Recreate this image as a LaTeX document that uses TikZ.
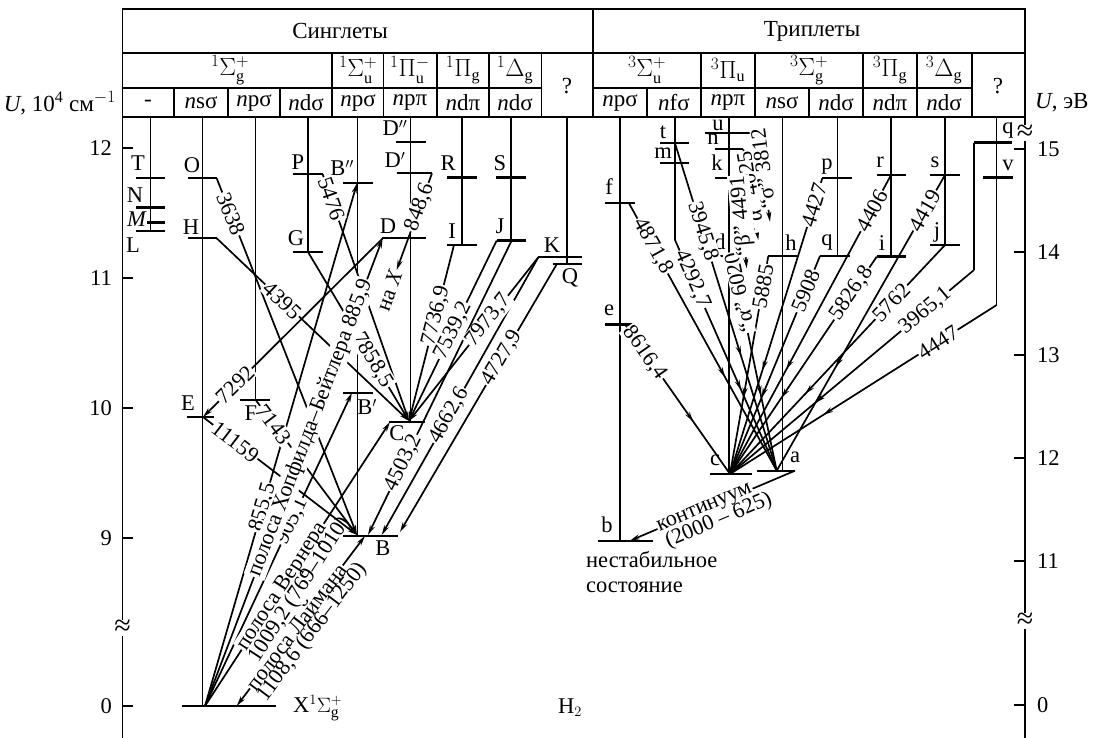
\documentclass[tikz,border=0pt]{standalone}
\usepackage{fontspec}
\setmainfont{Liberation Serif}
\usepackage{tikz}
\usetikzlibrary{arrows.meta,decorations.markings}

\begin{document}
\begin{tikzpicture}[
    x=1pt,y=-1pt,
    tabline/.style={line width=1.1pt},
    lvl/.style={line width=2.4pt},
    stateline/.style={line width=1.1pt},
    arrow/.style={line width=1.7pt,-{Stealth[length=10pt,width=5pt]}},
    twoway/.style={line width=1.7pt,{Stealth[length=10pt,width=5pt]}-{Stealth[length=10pt,width=5pt]}},
    midarrow/.style={line width=1.7pt,postaction={decorate},decoration={markings,mark=at position 0.65 with {\arrow{Stealth[length=10pt,width=5pt]}}}},
    head/.style={font=\fontsize{23}{26}\selectfont,inner sep=1pt},
    lvlname/.style={font=\fontsize{22.5}{25}\selectfont,inner sep=1pt},
    wave/.style={font=\fontsize{22}{24}\selectfont,inner sep=1pt,fill=white,sloped},
    wavenext/.style={font=\fontsize{22}{24}\selectfont,inner sep=1pt,sloped},
    brk/.style={font=\fontsize{30}{30}\selectfont,inner sep=0pt,fill=white}
]
\useasboundingbox (0,0) rectangle (1093,738);

% table
\draw[tabline] (122.7,9) rectangle (1025,117);
\draw[tabline] (122.7,53) -- (1025,53) (593,9) -- (593,117);
\draw[tabline] (122.7,88) -- (541.5,88) (593,88) -- (972,88);
\draw[tabline] (332,53) -- (332,117) (383.5,53) -- (383.5,117) (437,53) -- (437,117) (489,53) -- (489,117) (541.5,53) -- (541.5,117);
\draw[tabline] (701,53) -- (701,117) (755,53) -- (755,117) (863,53) -- (863,117) (917,53) -- (917,117) (972,53) -- (972,117);
\draw[tabline] (174,88) -- (174,117) (228,88) -- (228,117) (280,88) -- (280,117) (647,88) -- (647,117) (809,88) -- (809,117);

\node[head] (sing) at (340,31) {Синглеты};
\node[head] (trip) at (812,31) {Триплеты};
\node[head] (sg) at (230,70) {$^1\Sigma^+_{\mathrm{g}}$};
\node[head] (su) at (358,70) {$^1\Sigma^+_{\mathrm{u}}$};
\node[head] (pu) at (410,70) {$^1\Pi^-_{\mathrm{u}}$};
\node[head] (pg) at (463,70) {$^1\Pi_{\mathrm{g}}$};
\node[head] (dg) at (515,70) {$^1\Delta_{\mathrm{g}}$};
\node[head] (sq) at (567,86) {?};
\node[head] (c1) at (148,103) {-};
\node[head] (c2) at (201,103) {\textit{n}sσ};
\node[head] (c3) at (254,103) {\textit{n}pσ};
\node[head] (c4) at (306,103) {\textit{n}dσ};
\node[head] (c5) at (358,103) {\textit{n}pσ};
\node[head] (c6) at (410,103) {\textit{n}pπ};
\node[head] (c7) at (463,103) {\textit{n}dπ};
\node[head] (c8) at (515,103) {\textit{n}dσ};
\node[head] (tsu) at (647,70) {$^3\Sigma^+_{\mathrm{u}}$};
\node[head] (tpu) at (728,70) {$^3\Pi_{\mathrm{u}}$};
\node[head] (tsg) at (809,70) {$^3\Sigma^+_{\mathrm{g}}$};
\node[head] (tpg) at (890,70) {$^3\Pi_{\mathrm{g}}$};
\node[head] (tdg) at (944,70) {$^3\Delta_{\mathrm{g}}$};
\node[head] (tq) at (998,86) {?};
\node[head] (t1) at (620,103) {\textit{n}pσ};
\node[head] (t2) at (674,103) {\textit{n}fσ};
\node[head] (t3) at (728,103) {\textit{n}pπ};
\node[head] (t4) at (782,103) {\textit{n}sσ};
\node[head] (t5) at (836,103) {\textit{n}dσ};
\node[head] (t6) at (890,103) {\textit{n}dπ};
\node[head] (t7) at (944,103) {\textit{n}dσ};

% axes
\draw[tabline] (122.7,117) -- (122.7,738) (1025,117) -- (1025,738);
\draw[tabline] (122.7,148) -- (133,148) (122.7,278) -- (133,278) (122.7,408) -- (133,408) (122.7,538) -- (133,538) (122.7,706) -- (133,706);
\draw[tabline] (1014,149) -- (1025,149) (1014,252) -- (1025,252) (1014,355) -- (1025,355) (1014,458) -- (1025,458) (1014,561) -- (1025,561) (1014,705) -- (1025,705);
\node[head,anchor=east] (uleft) at (117,103) {\textit{U}, 10\textsuperscript{4} см$^{-1}$};
\node[head,anchor=west] (uright) at (1034,103) {\textit{U}, эВ};
\node[lvlname,anchor=east] (y12) at (113,148) {12};
\node[lvlname,anchor=east] (y11) at (113,278) {11};
\node[lvlname,anchor=east] (y10) at (113,408) {10};
\node[lvlname,anchor=east] (y9) at (113,538) {9};
\node[lvlname,anchor=east] (y0) at (113,706) {0};
\node[lvlname,anchor=west] (e15) at (1036,149) {15};
\node[lvlname,anchor=west] (e14) at (1036,252) {14};
\node[lvlname,anchor=west] (e13) at (1036,355) {13};
\node[lvlname,anchor=west] (e12) at (1036,458) {12};
\node[lvlname,anchor=west] (e11) at (1036,561) {11};
\node[lvlname,anchor=west] (e0) at (1036,705) {0};
\node[brk] (brkl) at (122.7,628) {≈};
\node[brk] (brkr) at (1025,621) {≈};
\node[brk] (brkt) at (1025,133) {≈};

% state lines
\draw[stateline] (150.7,117) -- (150.7,231) (202.7,117) -- (202.7,706) (255.7,117) -- (255.7,400) (308,117) -- (308,252);
\draw[stateline] (357.5,117) -- (357.5,536) (410.5,117) -- (410.5,422) (462,117) -- (462,245) (511,117) -- (511,240.5) (567,117) -- (567,264.3);
\draw[stateline] (620,117) -- (620,540.7) (675,117) -- (675,240) (729,117) -- (729,474) (782.7,117) -- (782.7,470.7);
\draw[stateline] (837.7,117) -- (837.7,256) (891,117) -- (891,256.7) (945,117) -- (945,245) (996.7,117) -- (996.7,305) (974,142.7) -- (974,270);

% singlet levels
\draw[lvl] (135.7,178.3) -- (165,178.3) (135.7,207.7) -- (165,207.7) (147,222.7) -- (165,222.7) (135.7,231) -- (165,231);
\draw[lvl] (188.3,178.3) -- (216.7,178.3) (188.3,238.3) -- (216.7,238.3) (186.7,417) -- (214,417) (181.7,706) -- (275.7,706);
\draw[lvl] (240,400) -- (270,400) (292.7,174.3) -- (322.7,174.3) (292.7,252) -- (322.7,252);
\draw[lvl] (343,183.3) -- (372.7,183.3) (343,392.7) -- (372.7,392.7) (343,536) -- (398,536);
\draw[lvl] (395.7,142.3) -- (425.7,142.3) (396.7,173.3) -- (432,173.3) (382.3,238.3) -- (425.7,238.3) (389,422) -- (425,422);
\draw[lvl] (446.7,177.7) -- (476.7,177.7) (446.7,245) -- (476.7,245) (495.7,177.7) -- (526,177.7) (496.7,240.5) -- (526,240.5);
\draw[lvl] (538,257.3) -- (581.7,257.3) (552.7,264.3) -- (581.7,264.3);

% triplet levels
\draw[lvl] (605,203.3) -- (635,203.3) (605,324.3) -- (635,324.3) (598.3,540.7) -- (653.3,540.7);
\draw[lvl] (660,143.3) -- (689.3,143.3) (660,163.3) -- (689.3,163.3);
\draw[lvl] (705,133.3) -- (758.3,133.3) (715,149.3) -- (743.3,149.3) (715,178.3) -- (738.3,178.3) (718.3,256) -- (745,256);
\draw[lvl] (710,474) -- (752,474) (757,470.7) -- (795,470.7) (768.3,256) -- (797.3,256);
\draw[lvl] (822.3,178.3) -- (851.7,178.3) (820,256) -- (850,256) (876.7,175) -- (906,175) (876.7,256.7) -- (906,256.7);
\draw[lvl] (930,175) -- (960,175) (930,245) -- (960,245) (974,142.7) -- (1011.7,142.7) (982.7,177.7) -- (1012.7,177.7);

% level names
\node[lvlname] (nT) at (138,163) {T};
\node[lvlname] (nN) at (135,195) {N};
\node[lvlname] (nM) at (137,219) {\textit{M}};
\node[lvlname] (nL) at (133,245) {L};
\node[lvlname] (nO) at (192,165) {O};
\node[lvlname] (nH) at (191,227) {H};
\node[lvlname] (nE) at (188,403) {E};
\node[lvlname] (nF) at (251,413) {F};
\node[lvlname] (nP) at (298,162) {P};
\node[lvlname] (nG) at (296,238) {G};
\node[lvlname] (nBpp) at (342,168) {B$''$};
\node[lvlname] (nBp) at (367,407) {B$'$};
\node[lvlname] (nB) at (383,548) {B};
\node[lvlname] (nC) at (397,433) {C};
\node[lvlname] (nDpp) at (395,128) {D$''$};
\node[lvlname] (nDp) at (395,160) {D$'$};
\node[lvlname] (nD) at (388,226) {D};
\node[lvlname] (nR) at (448,163) {R};
\node[lvlname] (nI) at (452,231) {I};
\node[lvlname] (nS) at (500,163) {S};
\node[lvlname] (nJ) at (500,226) {J};
\node[lvlname] (nK) at (552,245) {K};
\node[lvlname] (nQ) at (570,278) {Q};
\node[lvlname,anchor=west] (nX) at (292,708) {X$^1\Sigma^+_{\mathrm{g}}$};
\node[lvlname] (h2) at (570,708) {H$_2$};
\node[lvlname] (nf) at (609,187) {f};
\node[lvlname] (ne) at (609,310) {e};
\node[lvlname] (nb) at (607,525) {b};
\node[lvlname,anchor=north west,align=left] (unst) at (585,550) {нестабильное\\состояние};
\node[lvlname] (nt) at (663,132) {t};
\node[lvlname] (nm) at (663,153) {m};
\node[lvlname] (nu) at (718,125) {u};
\node[lvlname] (nn) at (713,139) {n};
\node[lvlname] (nk) at (717,163) {k};
\node[lvlname] (nd) at (720,242) {d};
\node[lvlname] (nc) at (715,460) {c};
\node[lvlname] (na) at (795,457) {a};
\node[lvlname] (nh) at (791,243) {h};
\node[lvlname] (np) at (827,167) {p};
\node[lvlname] (nq) at (827,242) {q};
\node[lvlname] (nr) at (880,162) {r};
\node[lvlname] (ni) at (882,243) {i};
\node[lvlname] (ns) at (935,162) {s};
\node[lvlname] (nj) at (937,232) {j};
\node[lvlname] (nqq) at (1008,130) {q};
\node[lvlname] (nv) at (1008,165) {v};

% transition points
\coordinate (Xo) at (205,706);
\coordinate (Lx) at (236.7,706);
\coordinate (Ot) at (216.7,178.3);
\coordinate (Ht) at (216.7,238.3);
\coordinate (Et) at (203,417);
\coordinate (Ft) at (255.7,400);
\coordinate (Pt) at (322.7,174.3);
\coordinate (Gt) at (308,252);
\coordinate (Bpp) at (357,183.3);
\coordinate (Bp) at (352,392.7);
\coordinate (Bt) at (357,535);
\coordinate (Lb) at (365,536);
\coordinate (Bj) at (368,535);
\coordinate (Bk) at (381.7,535);
\coordinate (Bq) at (400,532);
\coordinate (Dl) at (382.7,238.3);
\coordinate (Dpt) at (432,173.3);
\coordinate (naX) at (396.7,270);
\coordinate (Cl) at (390,422);
\coordinate (Ct) at (409,421);
\coordinate (It) at (454,245);
\coordinate (Jl) at (496.7,240.5);
\coordinate (Jc) at (511.7,240.5);
\coordinate (Kl) at (538.3,257.3);
\coordinate (Ql) at (556.7,264.3);
\coordinate (cc) at (730,474);
\coordinate (aa) at (776.7,470.7);
\coordinate (ar) at (795,470.7);
\coordinate (bb) at (630,540.7);
\coordinate (et) at (625,324.3);
\coordinate (ft) at (629,203.3);
\coordinate (nft) at (675,240);
\coordinate (tt) at (675,143.3);
\coordinate (dt) at (731.7,256);
\coordinate (ht) at (768.3,256);
\coordinate (qt) at (820,256);
\coordinate (pt) at (822.3,178.3);
\coordinate (rt) at (891,175);
\coordinate (it) at (876.7,256.7);
\coordinate (st) at (945,175);
\coordinate (jt) at (945,245);
\coordinate (qqt) at (974,270);
\coordinate (vt) at (996.7,305);
\coordinate (ut) at (758.3,133.3);
\coordinate (ue) at (770,221.7);
\coordinate (nt0) at (743.3,149.3);
\coordinate (ne0) at (758.3,240);
\coordinate (kt) at (738.3,178.3);
\coordinate (ke) at (746.7,268.3);

% singlet transitions
\draw[arrow] (Ot) -- (Bt);
\draw[arrow] (Ht) -- (Ct);
\draw[arrow] (Pt) -- (Ct);
\draw[arrow] (Gt) -- (Ct);
\draw[arrow] (Dl) -- (Et);
\draw[arrow] (Et) -- (Bt);
\draw[arrow] (Ft) -- (Bt);
\draw[arrow] (Xo) -- (Bpp);
\draw[arrow] (Xo) -- (Bp);
\draw[arrow] (Xo) -- (Dl);
\draw[arrow] (Xo) -- (Cl);
\draw[twoway] (Lx) -- (Lb);
\draw[arrow] (Dpt) -- (naX);
\draw[arrow] (It) -- (Ct);
\draw[arrow] (Jl) -- (Ct);
\draw[arrow] (Jc) -- (Bj);
\draw[arrow] (Kl) -- (Ct);
\draw[arrow] (Kl) -- (Bk);
\draw[arrow] (Ql) -- (Bq);

% triplet transitions
\draw[midarrow] (et) -- (cc);
\draw[midarrow] (ft) -- (aa);
\draw[midarrow] (nft) -- (aa);
\draw[midarrow] (tt) -- (aa);
\draw[midarrow] (dt) -- (aa);
\draw[midarrow] (ht) -- (cc);
\draw[midarrow] (qt) -- (cc);
\draw[midarrow] (pt) -- (cc);
\draw[midarrow] (rt) -- (cc);
\draw[midarrow] (it) -- (cc);
\draw[midarrow] (st) -- (aa);
\draw[midarrow] (jt) -- (cc);
\draw[midarrow] (qqt) -- (cc);
\draw[midarrow] (vt) -- (cc);
\draw[arrow] (ut) -- (ue);
\draw[arrow] (nt0) -- (ne0);
\draw[arrow] (kt) -- (ke);
\draw[arrow] (ar) -- (bb);

% wavelengths
\path (Ot) -- node[wave,pos=0.1] (w3638) {3638} (Bt);
\path (Ht) -- node[wave,pos=0.34] (w4395) {4395} (Ct);
\path (Pt) -- node[wave,pos=0.1] (w5476) {5476} (Ct);
\path (Gt) -- node[wave,pos=0.64] (w7858) {7858,5} (Ct);
\path (Dl) -- node[wave,pos=0.82] (w7292) {7292} (Et);
\path (Et) -- node[wave,pos=0.21] (w11159) {11159} (Bt);
\path (Ft) -- node[wave,pos=0.18] (w7143) {7143} (Bt);
\path (Xo) -- node[wave,pos=0.38] (w855) {855,5} (Bpp);
\path (Xo) -- node[wave,pos=0.59] (w905) {905,1} (Bp);
\path (Xo) -- node[wave,pos=0.594] (w885) {полоса Хопфилда–Бейтлера 885,9} (Dl);
\path (Xo) -- node[wave,pos=0.42] (wwer) {полоса Вернера} node[wavenext,pos=0.44,below=5pt] (wwer2) {1009,2 (769–1010)} (Cl);
\path (Lx) -- node[wave,pos=0.465] (wlym) {полоса Лаймана} node[wavenext,pos=0.49,below=5pt] (wlym2) {1108,6 (666–1250)} (Lb);
\path (Dpt) -- node[wave,pos=0.35] (w848) {848,6} (naX) node[wavenext,pos=1,anchor=east] (wnax) {на \textit{X}};
\path (It) -- node[wave,pos=0.4] (w7736) {7736,9} (Ct);
\path (Jl) -- node[wave,pos=0.5] (w7539) {7539,2} (Ct);
\path (Jc) -- node[wave,pos=0.755] (w4503) {4503,2} (Bj);
\path (Kl) -- node[wave,pos=0.385] (w7973) {7973,7} (Ct);
\path (Kl) -- node[wave,pos=0.57] (w4662) {4662,6} (Bk);
\path (Ql) -- node[wave,pos=0.35] (w4727) {4727,9} (Bq);
\path (et) -- node[wave,pos=0.19] (w8616) {8616,4} (cc);
\path (ft) -- node[wave,pos=0.16] (w4871) {4871,8} (aa);
\path (nft) -- node[wave,pos=0.17] (w4292) {4292,7} (aa);
\path (tt) -- node[wave,pos=0.27] (w3945) {3945,8} (aa);
\path (dt) -- node[wave,pos=0.17,rotate=180] (w6020) {“α” 6020} (aa);
\path (ht) -- node[wave,pos=0.14] (w5885) {5885} (cc);
\path (qt) -- node[wave,pos=0.16] (w5908) {5908} (cc);
\path (pt) -- node[wave,pos=0.09] (w4427) {4427} (cc);
\path (rt) -- node[wave,pos=0.12] (w4406) {4406} (cc);
\path (it) -- node[wave,pos=0.17] (w5826) {5826,8} (cc);
\path (st) -- node[wave,pos=0.12] (w4419) {4419} (aa);
\path (jt) -- node[wave,pos=0.25] (w5762) {5762} (cc);
\path (qqt) -- node[wave,pos=0.2] (w3965) {3965,1} (cc);
\path (vt) -- node[wave,pos=0.22] (w4447) {4447} (cc);
\path (ut) -- node[wave,pos=0.4,rotate=180] (w3812) {“σ” 3812} (ue);
\path (nt0) -- node[wave,pos=0.47,rotate=180] (w4025) {“α” 4025} (ne0);
\path (kt) -- node[wave,pos=0.42,rotate=180] (w4491) {“β” 4491} (ke);
\path (ar) -- node[wave,pos=0.545] (wcont) {континуум} node[wavenext,pos=0.5,below=5pt] (wcont2) {(2000 – 625)} (bb);
\end{tikzpicture}
\end{document}
